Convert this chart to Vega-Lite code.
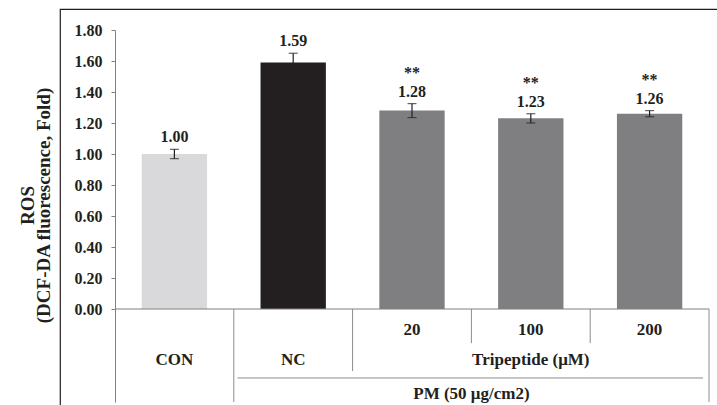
{
  "$schema": "https://vega.github.io/schema/vega-lite/v6.json",
  "width": 660,
  "height": 400,
  "autosize": "none",
  "padding": {"left": 60, "top": 9, "right": 0, "bottom": 0},
  "background": "white",
  "config": {
    "view": {"stroke": "#231f20", "strokeWidth": 1.2},
    "font": "Liberation Serif"
  },
  "datasets": {
    "main": [
      {"group": "CON", "value": 1.00, "err": 0.03, "sig": "", "dose": ""},
      {"group": "NC", "value": 1.59, "err": 0.06, "sig": "", "dose": ""},
      {"group": "20", "value": 1.28, "err": 0.045, "sig": "**", "dose": "20"},
      {"group": "100", "value": 1.23, "err": 0.03, "sig": "**", "dose": "100"},
      {"group": "200", "value": 1.26, "err": 0.02, "sig": "**", "dose": "200"}
    ]
  },
  "layer": [
    {
      "data": {"name": "main"},
      "mark": {"type": "bar", "width": {"band": 0.55}},
      "encoding": {
        "x": {"field": "group", "type": "nominal", "sort": null,
              "scale": {"type": "band", "domain": ["CON", "NC", "20", "100", "200"], "range": [55, 649], "paddingInner": 0, "paddingOuter": 0},
              "axis": null},
        "y": {"field": "value", "type": "quantitative",
              "scale": {"domain": [-0.6, 1.8], "range": [393, 21], "nice": false, "zero": false},
              "axis": {
                "values": [0, 0.2, 0.4, 0.6, 0.8, 1.0, 1.2, 1.4, 1.6, 1.8],
                "format": ".2f", "offset": -55, "grid": false,
                "domainColor": "#808080", "tickColor": "#808080", "tickSize": 4,
                "labelFont": "Liberation Serif", "labelFontWeight": "bold", "labelFontSize": 16,
                "labelColor": "#231f20", "labelPadding": 9,
                "title": ["ROS", "(DCF-DA fluorescence, Fold)"],
                "titleFont": "Liberation Serif", "titleFontWeight": "bold", "titleFontSize": 19,
                "titleColor": "#231f20", "titleX": -78, "titleY": 196, "titleLineHeight": 16
              }},
        "color": {"field": "group", "type": "nominal",
                  "scale": {"domain": ["CON", "NC", "20", "100", "200"], "range": ["#d9d9db", "#231f20", "#7f7f82", "#7f7f82", "#7f7f82"]},
                  "legend": null}
      }
    },
    {
      "data": {"name": "main"},
      "transform": [{"calculate": "datum.value - datum.err", "as": "low"}, {"calculate": "datum.value + datum.err", "as": "high"}],
      "layer": [
        {
          "mark": {"type": "rule", "color": "#231f20", "strokeWidth": 1.2},
          "encoding": {
            "x": {"field": "group", "type": "nominal", "axis": null},
            "y": {"field": "low", "type": "quantitative"},
            "y2": {"field": "high"}
          }
        },
        {
          "mark": {"type": "tick", "color": "#231f20", "thickness": 1.2, "size": 9},
          "encoding": {
            "x": {"field": "group", "type": "nominal", "axis": null},
            "y": {"field": "low", "type": "quantitative"}
          }
        },
        {
          "mark": {"type": "tick", "color": "#231f20", "thickness": 1.2, "size": 9},
          "encoding": {
            "x": {"field": "group", "type": "nominal", "axis": null},
            "y": {"field": "high", "type": "quantitative"}
          }
        },
        {
          "mark": {"type": "text", "baseline": "bottom", "dy": -4, "font": "Liberation Serif", "fontWeight": "bold", "fontSize": 16, "color": "#231f20"},
          "encoding": {
            "x": {"field": "group", "type": "nominal", "axis": null},
            "y": {"field": "high", "type": "quantitative"},
            "text": {"field": "value", "type": "quantitative", "format": ".2f"}
          }
        },
        {
          "transform": [{"filter": "datum.sig != ''"}],
          "mark": {"type": "text", "baseline": "bottom", "dy": -23, "font": "Liberation Serif", "fontWeight": "bold", "fontSize": 16, "color": "#231f20"},
          "encoding": {
            "x": {"field": "group", "type": "nominal", "axis": null},
            "y": {"field": "high", "type": "quantitative"},
            "text": {"field": "sig"}
          }
        }
      ]
    },
    {
      "data": {"values": [{"from": "CON", "to": "200"}]},
      "mark": {"type": "rule", "color": "#808080", "strokeWidth": 1.2},
      "encoding": {
        "x": {"field": "from", "type": "nominal", "bandPosition": 0, "axis": null},
        "x2": {"field": "to", "bandPosition": 1},
        "y": {"datum": 0, "type": "quantitative"}
      }
    },
    {
      "data": {"values": [{"group": "NC"}]},
      "mark": {"type": "rule", "color": "#8c8c8c", "strokeWidth": 1},
      "encoding": {
        "x": {"field": "group", "type": "nominal", "bandPosition": 0, "axis": null},
        "y": {"datum": 0, "type": "quantitative"},
        "y2": {"datum": -0.6}
      }
    },
    {
      "data": {"values": [{"group": "200"}]},
      "mark": {"type": "rule", "color": "#8c8c8c", "strokeWidth": 1},
      "encoding": {
        "x": {"field": "group", "type": "nominal", "bandPosition": 1, "axis": null},
        "y": {"datum": 0, "type": "quantitative"},
        "y2": {"datum": -0.6}
      }
    },
    {
      "data": {"values": [{"group": "20"}]},
      "mark": {"type": "rule", "color": "#8c8c8c", "strokeWidth": 1},
      "encoding": {
        "x": {"field": "group", "type": "nominal", "bandPosition": 0, "axis": null},
        "y": {"datum": 0, "type": "quantitative"},
        "y2": {"datum": -0.4}
      }
    },
    {
      "data": {"values": [{"group": "100"}, {"group": "200"}]},
      "mark": {"type": "rule", "color": "#8c8c8c", "strokeWidth": 1},
      "encoding": {
        "x": {"field": "group", "type": "nominal", "bandPosition": 0, "axis": null},
        "y": {"datum": 0, "type": "quantitative"},
        "y2": {"datum": -0.22}
      }
    },
    {
      "data": {"values": [{"from": "NC", "to": "200"}]},
      "mark": {"type": "rule", "color": "#8c8c8c", "strokeWidth": 1},
      "encoding": {
        "x": {"field": "from", "type": "nominal", "bandPosition": 0.03, "axis": null},
        "x2": {"field": "to", "bandPosition": 0.95},
        "y": {"datum": -0.445, "type": "quantitative"}
      }
    },
    {
      "data": {"name": "main"},
      "transform": [{"filter": "datum.dose != ''"}],
      "mark": {"type": "text", "baseline": "middle", "font": "Liberation Serif", "fontWeight": "bold", "fontSize": 17, "color": "#231f20"},
      "encoding": {
        "x": {"field": "group", "type": "nominal", "axis": null},
        "y": {"datum": -0.135, "type": "quantitative"},
        "text": {"field": "dose"}
      }
    },
    {
      "data": {"values": [{"group": "CON", "label": "CON"}, {"group": "NC", "label": "NC"}, {"group": "100", "label": "Tripeptide (μM)"}]},
      "mark": {"type": "text", "baseline": "middle", "font": "Liberation Serif", "fontWeight": "bold", "fontSize": 17, "color": "#231f20"},
      "encoding": {
        "x": {"field": "group", "type": "nominal", "axis": null},
        "y": {"datum": -0.33, "type": "quantitative"},
        "text": {"field": "label"}
      }
    },
    {
      "data": {"values": [{"group": "100", "label": "PM (50 μg/cm2)"}]},
      "mark": {"type": "text", "baseline": "middle", "font": "Liberation Serif", "fontWeight": "bold", "fontSize": 17, "color": "#231f20"},
      "encoding": {
        "x": {"field": "group", "type": "nominal", "bandPosition": 0, "axis": null},
        "y": {"datum": -0.55, "type": "quantitative"},
        "text": {"field": "label"}
      }
    }
  ]
}
